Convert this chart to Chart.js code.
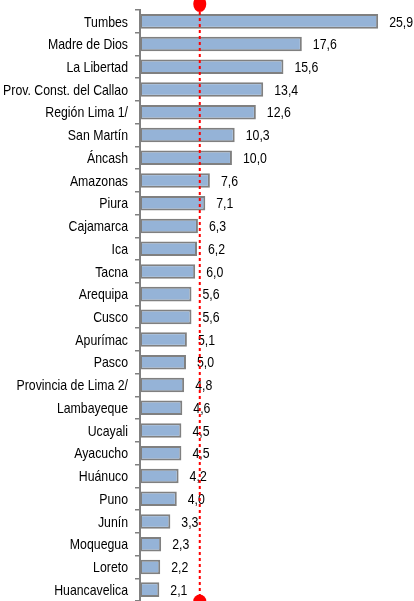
<!DOCTYPE html>
<html>
<head>
<meta charset="utf-8">
<script src="https://cdn.jsdelivr.net/npm/chart.js@4"></script>
<style>
  html, body { margin: 0; padding: 0; background: #fff; }
  #wrap { width: 414px; height: 601px; position: relative; }
</style>
</head>
<body>
<div id="wrap"><canvas id="grafiek"></canvas></div>
<script>
// regiones y valores (de arriba hacia abajo)
const regiones = ['Tumbes', 'Madre de Dios', 'La Libertad', 'Prov. Const. del Callao', 'Región Lima 1/',
  'San Martín', 'Áncash', 'Amazonas', 'Piura', 'Cajamarca', 'Ica', 'Tacna', 'Arequipa', 'Cusco',
  'Apurímac', 'Pasco', 'Provincia de Lima 2/', 'Lambayeque', 'Ucayali', 'Ayacucho', 'Huánuco',
  'Puno', 'Junín', 'Moquegua', 'Loreto', 'Huancavelica'];
const valores = [25.9, 17.6, 15.6, 13.4, 12.6, 10.3, 10.0, 7.6, 7.1, 6.3, 6.2, 6.0, 5.6, 5.6,
  5.1, 5.0, 4.8, 4.6, 4.5, 4.5, 4.2, 4.0, 3.3, 2.3, 2.2, 2.1];
const promedio = 6.5; // linea roja punteada

const fuente = '15px "Liberation Sans", Arial, sans-serif';
const estrecho = 0.82; // simula Arial Narrow

// texto comprimido horizontalmente
function textoEstrecho(ctx, txt, x, y, align) {
  ctx.save();
  ctx.translate(x, y);
  ctx.scale(estrecho, 1);
  ctx.textAlign = align;
  ctx.fillText(txt, 0, 0);
  ctx.restore();
}

// etiquetas de categorias y de valor
const etiquetas = {
  id: 'etiquetas',
  afterDatasetsDraw(chart) {
    const ctx = chart.ctx;
    const meta = chart.getDatasetMeta(0);
    const yScale = chart.scales.y;
    ctx.save();
    ctx.font = fuente;
    ctx.fillStyle = '#000';
    ctx.textBaseline = 'middle';
    regiones.forEach((r, i) => {
      textoEstrecho(ctx, r, yScale.right - 12, yScale.getPixelForValue(i) + 1, 'right');
    });
    meta.data.forEach((bar, i) => {
      textoEstrecho(ctx, valores[i].toFixed(1).replace('.', ','), bar.x + 11, bar.y + 1, 'left');
    });
    ctx.restore();
  }
};

// linea de promedio con puntos rojos
const lineaRoja = {
  id: 'lineaRoja',
  afterDraw(chart) {
    const ctx = chart.ctx;
    const x = chart.scales.x.getPixelForValue(promedio);
    ctx.save();
    ctx.strokeStyle = '#ff0000';
    ctx.lineWidth = 2;
    ctx.setLineDash([3, 3]);
    ctx.beginPath();
    ctx.moveTo(x, 6);
    ctx.lineTo(x, 596);
    ctx.stroke();
    ctx.setLineDash([]);
    ctx.fillStyle = '#ff0000';
    ctx.beginPath();
    ctx.ellipse(x, 4, 6.5, 8, 0, 0, Math.PI * 2);
    ctx.fill();
    ctx.beginPath();
    ctx.arc(x, 601, 6.5, 0, Math.PI * 2);
    ctx.fill();
    ctx.restore();
  }
};

new Chart(document.getElementById('grafiek'), {
  type: 'bar',
  data: {
    labels: regiones,
    datasets: [{
      data: valores,
      backgroundColor: '#95b3d7',
      borderColor: '#808080',
      borderWidth: 2,
      borderSkipped: false,
      categoryPercentage: 0.64,
      barPercentage: 1
    }]
  },
  options: {
    indexAxis: 'y',
    responsive: true,
    maintainAspectRatio: false,
    animation: false,
    layout: { padding: { top: 10, bottom: 0, left: 0, right: 0 } },
    plugins: { legend: { display: false }, tooltip: { enabled: false } },
    scales: {
      x: { display: false, min: 0, max: 29.8 },
      y: {
        afterFit(scale) { scale.width = 140; },
        grid: { offset: true, drawOnChartArea: false, drawTicks: true, tickLength: 5, color: '#808080', lineWidth: 1.5 },
        border: { color: '#808080', width: 2 },
        ticks: { display: false }
      }
    }
  },
  plugins: [etiquetas, lineaRoja]
});
</script>
</body>
</html>
